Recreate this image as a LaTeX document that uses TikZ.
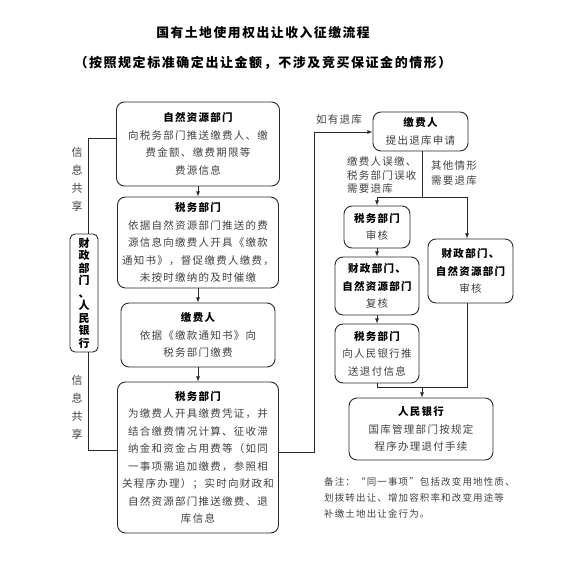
\documentclass[tikz,border=0pt]{standalone}
\usepackage{fontspec}
\setmainfont{Noto Sans CJK SC}[LetterSpace=12]
\usepackage{tikz}
\usetikzlibrary{arrows,calc}
\definecolor{textgray}{RGB}{64,64,64}
\definecolor{linegray}{RGB}{40,40,40}
\tikzset{
  flowbox/.style={draw=linegray, rounded corners=8pt, line width=0.9pt, align=center,
    inner sep=1pt, text=textgray, font=\fontsize{10.5}{17.5}\selectfont},
  flowline/.style={draw=linegray, line width=0.8pt},
  flowarrow/.style={flowline, -latex},
  sidetext/.style={text=textgray, align=left, inner sep=0pt},
}
\newcommand{\hd}[1]{\textbf{\color{black}#1}}

\begin{document}
\begin{tikzpicture}[x=1pt,y=-1pt]
\useasboundingbox (0,0) rectangle (575,564);
% titles
\node[font=\fontsize{12.8}{18}\selectfont\bfseries] (title) at (263,33) {国有土地使用权出让收入征缴流程};
\node[font=\fontsize{13}{18}\selectfont\bfseries] (subtitle) at (263,63) {（按照规定标准确定出让金额，不涉及竞买保证金的情形）};

% left column
\node[flowbox, minimum width=163pt, minimum height=84pt] (zrzy) at (198,144)
  {\hd{自然资源部门}\\向税务部门推送缴费人、缴\\费金额、缴费期限等\\费源信息};
\node[flowbox, minimum width=161pt, minimum height=91pt] (sw1) at (198,242.5)
  {\hd{税务部门}\\依据自然资源部门推送的费\\源信息向缴费人开具《缴款\\通知书》，督促缴费人缴费，\\未按时缴纳的及时催缴};
\node[flowbox, minimum width=154pt, minimum height=64pt] (jf1) at (198,335)
  {\hd{缴费人}\\依据《缴款通知书》向\\税务部门缴费};
\node[flowbox, minimum width=161pt, minimum height=151pt] (sw2) at (198,457.5)
  {\hd{税务部门}\\为缴费人开具缴费凭证，并\\结合缴费情况计算、征收滞\\纳金和资金占用费等（如同\\一事项需追加缴费，参照相\\关程序办理）；实时向财政和\\自然资源部门推送缴费、退\\库信息};
\node[flowbox, rounded corners=5pt, minimum width=28pt, minimum height=118pt,
  text=black, font=\fontsize{11}{12.5}\selectfont\bfseries] (czrm) at (84,293)
  {财\\政\\部\\门\\、\\人\\民\\银\\行};

% right column
\node[flowbox, minimum width=95pt, minimum height=39pt] (jf2) at (420.5,131.5)
  {\hd{缴费人}\\提出退库申请};
\node[flowbox, minimum width=66pt, minimum height=42pt] (sw3) at (377,227)
  {\hd{税务部门}\\审核};
\node[flowbox, minimum width=85pt, minimum height=64pt] (czzr2) at (470.5,271)
  {\hd{财政部门、}\\\hd{自然资源部门}\\审核};
\node[flowbox, minimum width=84pt, minimum height=58pt] (czzr1) at (377,286)
  {\hd{财政部门、}\\\hd{自然资源部门}\\复核};
\node[flowbox, minimum width=84pt, minimum height=59pt] (sw4) at (377,353.5)
  {\hd{税务部门}\\向人民银行推\\送退付信息};
\node[flowbox, minimum width=144pt, minimum height=62pt] (rmyh) at (421,429)
  {\hd{人民银行}\\国库管理部门按规定\\程序办理退付手续};

% labels
\node[sidetext, align=center, font=\fontsize{11}{18}\selectfont] (shareA) at (77,179.5) {信\\息\\共\\享};
\node[sidetext, align=center, font=\fontsize{11}{18}\selectfont] (shareB) at (77,407.5) {信\\息\\共\\享};
\node[sidetext, anchor=west, font=\fontsize{10.5}{14}\selectfont] (refundIf) at (316,120) {如有退库};
\node[sidetext, anchor=west, font=\fontsize{10.5}{13.5}\selectfont] (wrongPay) at (347,175.5)
  {缴费人误缴、\\税务部门误收\\需要退库};
\node[sidetext, anchor=west, font=\fontsize{10.5}{15}\selectfont] (otherCase) at (431,173.5)
  {其他情形\\需要退库};
\node[sidetext, anchor=west, font=\fontsize{9.5}{16}\selectfont] (remark) at (324,498)
  {备注：“同一事项”包括改变用地性质、\\划拨转出让、增加容积率和改变用途等\\补缴土地出让金行为。};

% main flow
\draw[flowarrow] (zrzy) -- (sw1);
\draw[flowarrow] (sw1) -- (jf1);
\draw[flowarrow] (jf1) -- (sw2);

% information sharing
\coordinate (shareTop) at (88,138);
\coordinate (shareBot) at (88,450);
\draw[flowline] (zrzy.west |- shareTop) -- (shareTop) -- (shareTop |- czrm.north);
\draw[flowline] (shareTop |- czrm.south) -- (shareBot) -- (shareBot -| sw2.west);

% refund branch
\coordinate (backBot) at (314,452);
\coordinate (backTop) at (314,132);
\draw[flowarrow] (sw2.east |- backBot) -- (backBot) -- (backTop) -- (backTop -| jf2.west);
\coordinate (split) at (422,197);
\coordinate (splitR) at (467,197);
\draw[flowline] (jf2.south -| split) -- (split);
\draw[flowarrow] (split) -| (sw3.north);
\draw[flowarrow] (split) -- (splitR) -- (splitR |- czzr2.north);
\draw[flowarrow] (sw3) -- (czzr1);
\draw[flowarrow] (czzr1) -- (sw4);
\coordinate (merge) at (422,387);
\draw[flowline] (sw4.south) |- (merge);
\draw[flowline] (czzr2.south -| splitR) |- (merge);
\draw[flowarrow] (merge) -- (merge |- rmyh.north);
\end{tikzpicture}
\end{document}
